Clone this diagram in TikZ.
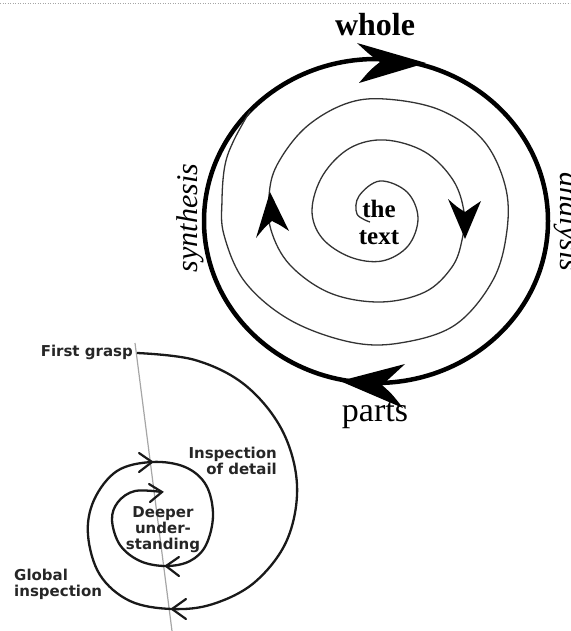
\documentclass[tikz,border=0pt]{standalone}
\usepackage{fontspec}
\setmainfont{Liberation Serif}
\newfontfamily\lblfont{DejaVu Sans}
\begin{document}
\begin{tikzpicture}[x=1pt,y=-1pt,
  thickring/.style={line width=4.5pt, black},
  headfill/.style={fill=black},
  thinspiral/.style={line width=1.3pt, black!80},
  loopline/.style={line width=2.3pt, black!90},
  vhead/.style={line width=2.2pt, black!90, line join=miter, line cap=round},
  lbl/.style={font=\lblfont\bfseries\fontsize{15}{16}\selectfont, text=black!85, inner sep=0pt},
  serifbig/.style={font=\fontsize{34}{36}\selectfont, inner sep=0pt},
  axisline/.style={gray!70, line width=1.2pt}
]
\useasboundingbox (0,0) rectangle (570,631);
\draw[gray!70, line width=0.8pt, dash pattern=on 1.2pt off 1.3pt] (0,3) -- (570,3);

% ---------- top: hermeneutic circle ----------
\coordinate (ringc) at (376,221);
\draw[thickring] (ringc) ellipse [x radius=172pt, y radius=162pt];

\draw[thinspiral] plot[smooth, tension=0.6] coordinates {
  (370,222) (357,214) (359,196) (380,181) (407,192) (418,218) (408,246) (382,261)
  (350,257) (322,238) (312,210) (323,175) (350,148) (385,140) (425,152) (453,180)
  (464,212) (462,240) (452,267) (425,292) (380,302) (330,293) (290,265) (271,230)
  (269,196) (277,165) (305,128) (345,104) (385,99) (440,110) (483,140) (505,185)
  (507,230) (493,280) (455,325) (400,343) (350,342) (290,320) (245,282) (224,235)
  (222,200) (225,165) (234,140) (250,111)};

% big arrowheads on the ring
\fill[headfill] (426,63) -- (357,43) .. controls (370,55) .. (380,62)
  .. controls (370,70) .. (359,83) -- cycle;
\fill[headfill] (340,381) -- (405,364) .. controls (391,377) .. (382,385)
  .. controls (392,394) .. (403,408) -- cycle;
% arrowheads on the spiral
\fill[headfill] (270,192) -- (289,231) .. controls (280,225) .. (272,221)
  .. controls (265,227) .. (256,238) -- cycle;
\fill[headfill] (465,239) -- (448,199) .. controls (457,207) .. (465,212)
  .. controls (472,207) .. (481,201) -- cycle;

\node[serifbig, font=\bfseries\fontsize{32}{34}\selectfont] (whole) at (375,25) {whole};
\node[serifbig] (parts) at (375,416) {parts};
\node[font=\bfseries\fontsize{25}{27}\selectfont, align=center, inner sep=0pt] (thetext) at (379,222) {the\\text};
\node[font=\itshape\fontsize{30}{32}\selectfont, rotate=90, anchor=base, inner sep=0pt] (syn) at (197,218) {synthesis};
\node[font=\itshape\fontsize{30}{32}\selectfont, rotate=-90, anchor=base, inner sep=0pt] (ana) at (560,222) {analysis};

% ---------- bottom: spiral of understanding ----------
\draw[axisline] (135,343) -- (172,631);
\draw[loopline] plot[smooth, tension=0.6] coordinates {
  (137,353) (195,360) (245,385) (282,430) (297,485) (287,540) (255,582) (213,604)
  (172,609) (130,601) (100,575) (88,535) (94,500) (117,471) (152,462)
  (185,467) (206,485) (213,515) (206,545) (190,561) (166,566)
  (140,561) (120,545) (112,520) (118,502) (135,491) (162,492)};
\draw[vhead] (186,599) -- (172,609) -- (186,619);
\draw[vhead] (139,453) -- (152,462) -- (139,472);
\draw[vhead] (179,557) -- (166,566) -- (179,576);
\draw[vhead] (149,484) -- (162,492) -- (150,502);

\node[lbl, anchor=east] (fg) at (133,352) {First grasp};
\node[lbl, align=right, anchor=north east] (id) at (277,447) {Inspection\\of detail};
\node[lbl, align=center] (du) at (163,530) {Deeper\\under-\\standing};
\node[lbl, align=left, anchor=north west] (gi) at (14,569) {Global\\inspection};
\end{tikzpicture}
\end{document}
